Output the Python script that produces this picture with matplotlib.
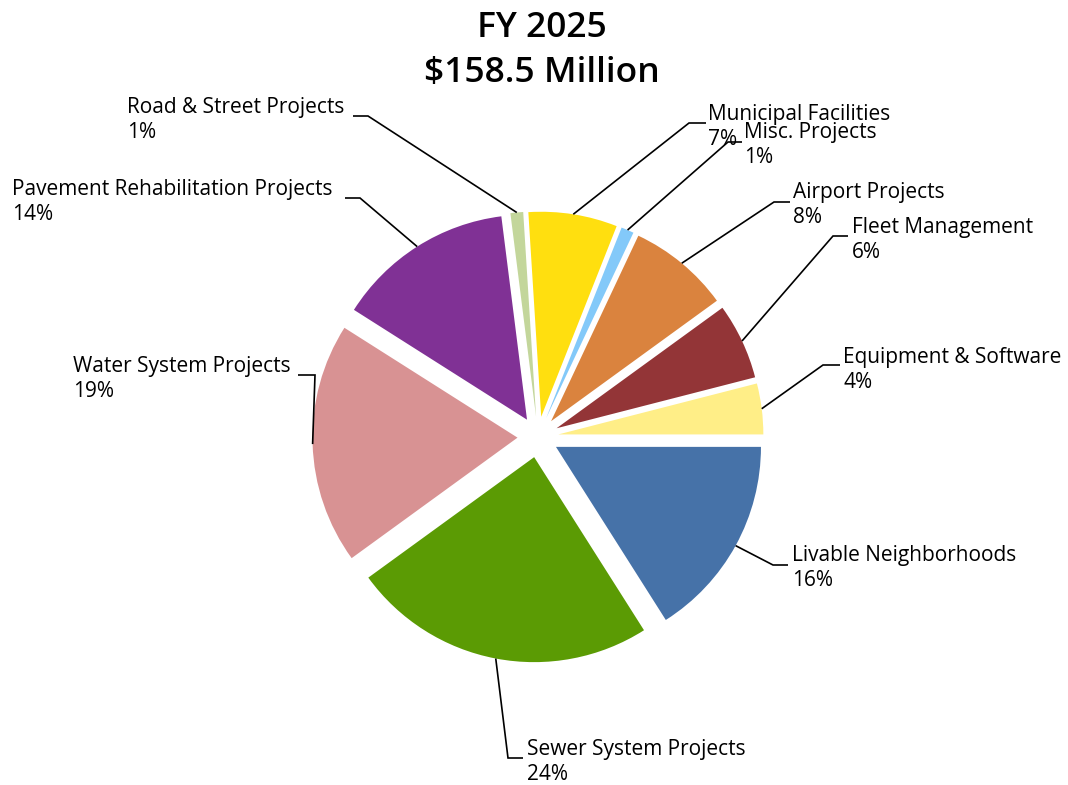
import matplotlib
matplotlib.use("Agg")
import numpy as np
import matplotlib.pyplot as plt

# data (clockwise from 3 o'clock)
categories = ["Livable Neighborhoods", "Sewer System Projects", "Water System Projects",
              "Pavement Rehabilitation Projects", "Road & Street Projects",
              "Municipal Facilities", "Misc. Projects", "Airport Projects",
              "Fleet Management", "Equipment & Software"]
shares = [16, 24, 19, 14, 1, 7, 1, 8, 6, 4]
title_lines = ["FY 2025", "\\$158.5 Million"]

colors = ["#4672A8", "#5B9B04", "#D89293", "#803195", "#C3D69B",
          "#FFDF0F", "#83C9F9", "#DA833E", "#933537", "#FFEE87"]

plt.rcParams['font.family'] = ['Open Sans', 'DejaVu Sans']

W, H = 1068, 785
CX, CY, R = 538, 437, 205   # pie centre and radius in pixels

# label layout in pixels: leader elbow, end of the short horizontal, text x, first baseline
elbows = [(773, 565), (508, 758), (315, 375), (360, 198), (368, 116),
          (689, 123), (728, 142), (774, 202), (833, 236), (823, 365)]
h_ends = [788, 523, 298, 345, 353, 706, 742, 790, 848, 840]
text_pos = [(792, 561), (527, 755), (73, 372), (12, 195), (127, 113),
            (708, 120), (744, 138), (793, 198), (852, 233), (843, 363)]
line_gap = 25


def px(x, y):
    return (x - CX) / R, (CY - y) / R


fig = plt.figure(figsize=(W / 100, H / 100), dpi=100)
ax = fig.add_axes([0, 0, 1, 1])
wedges, _ = ax.pie(shares, colors=colors, startangle=0, counterclock=False,
                   explode=[0.1] * len(shares), radius=1,
                   wedgeprops=dict(linewidth=0))
ax.set_xlim(-CX / R, (W - CX) / R)
ax.set_ylim(-(H - CY) / R, CY / R)
ax.set_aspect('auto')
ax.axis('off')

for i, w in enumerate(wedges):
    ang = np.deg2rad((w.theta1 + w.theta2) / 2)
    ax0 = w.center[0] + w.r * np.cos(ang)
    ay0 = w.center[1] + w.r * np.sin(ang)
    ex, ey = px(*elbows[i])
    hx, _ = px(h_ends[i], elbows[i][1])
    ax.plot([ax0, ex, hx], [ay0, ey, ey], color="black", lw=1.2,
            solid_capstyle="butt", solid_joinstyle="miter")
    tx, ty = text_pos[i]
    ax.text(*px(tx, ty), categories[i], fontsize=15, ha="left", va="baseline")
    ax.text(*px(tx, ty + line_gap), f"{shares[i]}%", fontsize=15, ha="left", va="baseline")

ax.text(*px(542, 37), title_lines[0], fontsize=25.5, fontweight="semibold", ha="center", va="baseline")
ax.text(*px(542, 82), title_lines[1], fontsize=25.5, fontweight="semibold", ha="center", va="baseline")

plt.savefig("out.png", dpi=100)
